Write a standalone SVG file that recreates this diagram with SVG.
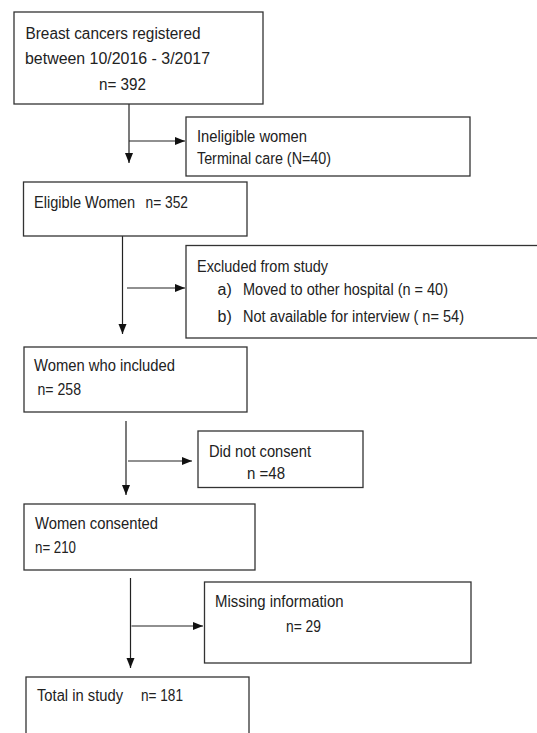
<svg xmlns="http://www.w3.org/2000/svg" width="537" height="733" viewBox="0 0 537 733">
<style>
.box{fill:#fff;stroke:#333;stroke-width:1.3}
.t{font-family:"Liberation Sans",Arial,sans-serif;font-size:16px;fill:#222}
.c{fill:none;stroke:#222;stroke-width:1.2}
</style>
<defs>
<marker id="ah" markerUnits="userSpaceOnUse" markerWidth="10" markerHeight="10" refX="10" refY="4" orient="auto">
<path d="M0,0 L10,4 L0,8 Z" fill="#111"/>
</marker>
</defs>
<rect width="537" height="733" fill="#fff"/>
<g id="connectors">
<line class="c" x1="129" y1="104" x2="129" y2="163" marker-end="url(#ah)"/>
<line class="c" x1="129" y1="141" x2="185" y2="141" marker-end="url(#ah)"/>
<line class="c" x1="122.5" y1="236" x2="122.5" y2="334" marker-end="url(#ah)"/>
<line class="c" x1="127" y1="288" x2="185" y2="288" marker-end="url(#ah)"/>
<line class="c" x1="126" y1="421" x2="126" y2="495" marker-end="url(#ah)"/>
<line class="c" x1="128" y1="461" x2="192" y2="461" marker-end="url(#ah)"/>
<line class="c" x1="130.5" y1="578" x2="130.5" y2="668" marker-end="url(#ah)"/>
<line class="c" x1="131.5" y1="626" x2="203" y2="626" marker-end="url(#ah)"/>
</g>
<g id="registered">
<rect class="box" x="14" y="12" width="249" height="92"/>
<text class="t" x="25.5" y="39" textLength="175" lengthAdjust="spacingAndGlyphs">Breast cancers registered</text>
<text class="t" x="25" y="64" textLength="185" lengthAdjust="spacingAndGlyphs">between 10/2016 - 3/2017</text>
<text class="t" x="99" y="90" textLength="47" lengthAdjust="spacingAndGlyphs">n= 392</text>
</g>
<g id="ineligible">
<rect class="box" x="186" y="117" width="284" height="59"/>
<text class="t" x="197" y="142" textLength="110" lengthAdjust="spacingAndGlyphs">Ineligible women</text>
<text class="t" x="197" y="164" textLength="134" lengthAdjust="spacingAndGlyphs">Terminal care (N=40)</text>
</g>
<g id="eligible">
<rect class="box" x="23.5" y="182" width="223.5" height="54"/>
<text class="t" y="208"><tspan x="34" textLength="101" lengthAdjust="spacingAndGlyphs">Eligible Women</tspan><tspan x="145.5" textLength="42.5" lengthAdjust="spacingAndGlyphs">n= 352</tspan></text>
</g>
<g id="excluded">
<rect class="box" x="186" y="245.5" width="360" height="92.5"/>
<text class="t" x="197" y="272" textLength="131" lengthAdjust="spacingAndGlyphs">Excluded from study</text>
<text class="t" y="295"><tspan x="217.5">a)</tspan><tspan x="243" textLength="205" lengthAdjust="spacingAndGlyphs">Moved to other hospital (n = 40)</tspan></text>
<text class="t" y="322"><tspan x="217.5">b)</tspan><tspan x="243" textLength="221" lengthAdjust="spacingAndGlyphs">Not available  for interview ( n= 54)</tspan></text>
</g>
<g id="included">
<rect class="box" x="24" y="347" width="223" height="65"/>
<text class="t" x="34" y="371" textLength="141" lengthAdjust="spacingAndGlyphs">Women who included</text>
<text class="t" x="37.5" y="395" textLength="43.5" lengthAdjust="spacingAndGlyphs">n= 258</text>
</g>
<g id="noconsent">
<rect class="box" x="198" y="431" width="165" height="56.5"/>
<text class="t" x="209" y="457" textLength="102" lengthAdjust="spacingAndGlyphs">Did not consent</text>
<text class="t" x="247" y="479" textLength="38" lengthAdjust="spacingAndGlyphs">n =48</text>
</g>
<g id="consented">
<rect class="box" x="24" y="504" width="231" height="66"/>
<text class="t" x="35" y="529" textLength="123" lengthAdjust="spacingAndGlyphs">Women consented</text>
<text class="t" x="35" y="553" textLength="41" lengthAdjust="spacingAndGlyphs">n= 210</text>
</g>
<g id="missing">
<rect class="box" x="204.5" y="582" width="266.5" height="81"/>
<text class="t" x="215" y="607" textLength="128.5" lengthAdjust="spacingAndGlyphs">Missing information</text>
<text class="t" x="286" y="632" textLength="35" lengthAdjust="spacingAndGlyphs">n= 29</text>
</g>
<g id="total">
<rect class="box" x="26" y="677" width="223" height="70"/>
<text class="t" y="701"><tspan x="37" textLength="86" lengthAdjust="spacingAndGlyphs">Total in study</tspan><tspan x="141" textLength="42" lengthAdjust="spacingAndGlyphs">n= 181</tspan></text>
</g>
</svg>
